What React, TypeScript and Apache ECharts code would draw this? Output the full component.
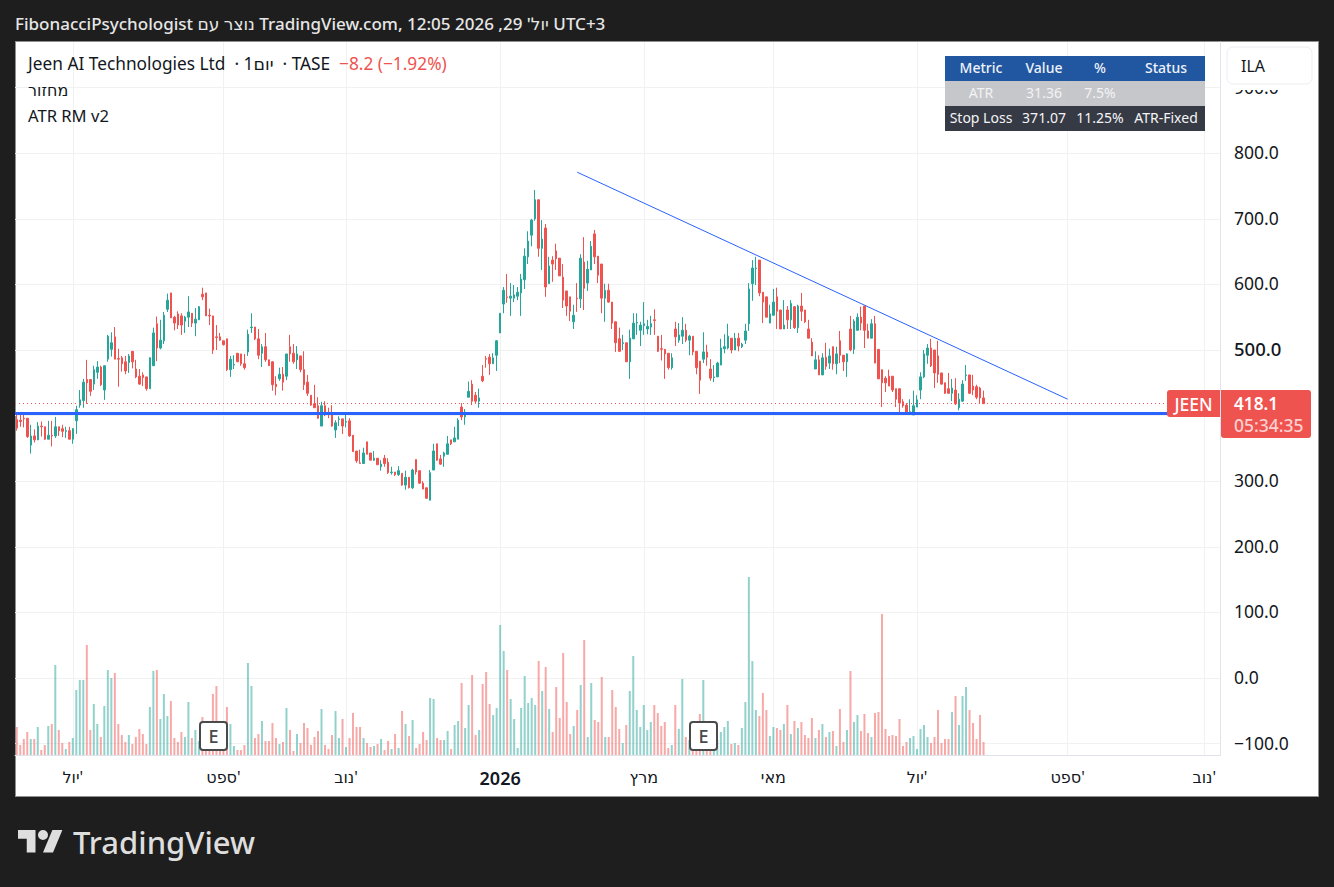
import React, { useEffect, useRef } from 'react';
import * as echarts from 'echarts';

// daily bars as [open, high, low, close]
const ohlcJun = [
  [394, 401, 377, 381], [393, 401, 383, 391], [396, 401, 382, 395], [396, 396, 366, 368],
  [355, 386, 342, 369], [369, 379, 359, 363], [363, 390, 363, 384], [384, 391, 368, 383],
  [383, 383, 363, 364], [364, 392, 364, 370], [370, 392, 353, 369], [369, 398, 366, 383],
  [383, 383, 369, 377], [380, 386, 367, 376], [376, 383, 366, 377], [377, 383, 364, 364],
];
const ohlcJulAug = [
  [364, 381, 357, 380], [392, 415, 372, 409], [416, 439, 412, 424], [423, 456, 412, 451],
  [455, 485, 418, 450], [455, 455, 430, 437], [448, 476, 439, 470], [466, 483, 456, 474],
  [474, 476, 445, 447], [439, 476, 424, 476], [486, 523, 482, 521], [501, 527, 490, 511],
  [520, 535, 486, 486], [487, 502, 444, 486], [488, 491, 467, 479], [482, 491, 463, 468],
  [481, 494, 465, 491], [498, 498, 472, 482], [471, 485, 457, 459], [460, 471, 447, 448],
  [462, 466, 445, 458], [459, 459, 438, 441], [441, 489, 441, 488], [476, 534, 476, 526],
  [540, 551, 483, 503], [503, 546, 501, 515], [514, 558, 509, 553], [562, 586, 558, 576],
  [587, 587, 549, 549], [550, 552, 530, 541], [555, 559, 532, 538], [552, 556, 523, 538],
  [544, 552, 526, 550], [550, 582, 535, 558], [556, 556, 535, 541], [541, 564, 521, 547],
  [546, 567, 546, 566], [585, 595, 576, 581], [587, 587, 552, 552], [553, 563, 538, 552],
  [552, 552, 494, 500], [520, 538, 500, 519], [520, 526, 514, 515],
];
const ohlcSepOct = [
  [514, 514, 507, 508], [517, 517, 468, 470], [470, 491, 459, 486], [477, 492, 471, 478],
  [495, 495, 482, 482], [494, 494, 476, 479], [479, 494, 470, 473], [497, 531, 491, 524],
  [534, 556, 526, 535], [535, 535, 515, 517], [517, 532, 486, 492], [495, 509, 474, 505],
  [505, 526, 482, 485], [485, 485, 476, 476], [482, 483, 438, 447], [448, 460, 431, 444],
  [456, 473, 453, 463], [463, 474, 438, 451], [460, 494, 454, 494], [505, 523, 482, 494],
  [495, 509, 479, 482], [485, 506, 471, 494], [491, 491, 466, 470], [470, 498, 439, 447],
  [451, 462, 430, 434], [431, 431, 415, 416], [418, 447, 412, 412], [415, 428, 395, 396],
  [384, 421, 384, 415], [415, 422, 399, 401], [403, 412, 396, 402], [401, 416, 383, 384],
  [378, 393, 366, 389], [394, 399, 384, 395], [395, 395, 372, 384],
];
const ohlcNovDec = [
  [390, 401, 382, 391], [392, 396, 368, 369], [370, 370, 345, 345], [346, 346, 328, 331],
  [328, 348, 327, 327], [327, 351, 327, 343], [360, 360, 341, 341], [343, 343, 332, 332],
  [332, 346, 331, 335], [335, 335, 325, 325], [322, 332, 316, 326], [335, 340, 322, 327],
  [329, 335, 311, 313], [313, 322, 310, 314], [314, 314, 308, 310], [310, 323, 308, 316],
  [312, 312, 293, 294], [294, 316, 287, 306], [306, 306, 289, 290], [290, 319, 288, 317],
  [333, 333, 310, 314], [316, 316, 296, 297], [297, 300, 288, 288], [290, 290, 273, 274],
  [271, 317, 271, 313], [317, 357, 317, 346], [357, 357, 331, 332], [334, 340, 325, 326],
  [338, 345, 322, 343], [341, 369, 341, 357], [363, 363, 355, 357], [360, 383, 360, 366],
  [364, 396, 364, 393], [413, 419, 393, 398], [398, 410, 386, 405], [428, 452, 428, 437],
  [448, 454, 416, 422], [431, 436, 418, 422], [422, 441, 412, 427], [460, 477, 451, 453],
  [487, 491, 473, 486], [489, 494, 462, 479], [479, 495, 479, 488], [492, 515, 468, 514],
];
const ohlcJanFeb = [
  [526, 556, 526, 556], [570, 596, 556, 591], [581, 616, 572, 580], [579, 602, 552, 582],
  [579, 599, 573, 584], [582, 596, 576, 588], [587, 616, 552, 608], [607, 655, 593, 643],
  [642, 681, 631, 666], [675, 700, 658, 698], [700, 744, 697, 729], [729, 729, 642, 655],
  [655, 698, 622, 669], [686, 692, 581, 596], [601, 642, 601, 628], [637, 643, 604, 631],
  [651, 662, 622, 639], [640, 640, 613, 613], [611, 631, 564, 576], [590, 590, 552, 567],
  [581, 581, 544, 559], [543, 569, 532, 553], [579, 602, 558, 578], [578, 646, 564, 640],
  [634, 672, 561, 594], [602, 636, 590, 623], [622, 666, 622, 658], [677, 683, 631, 642],
  [643, 643, 602, 614], [631, 631, 556, 579], [579, 601, 543, 591], [591, 601, 572, 573],
  [573, 573, 532, 541], [543, 543, 497, 511], [517, 534, 497, 498], [510, 523, 500, 511],
  [511, 511, 482, 482], [482, 531, 456, 518], [517, 556, 517, 541], [541, 556, 523, 542],
  [530, 543, 506, 538],
];
const ohlcMarApr = [
  [537, 573, 523, 540], [532, 546, 524, 536], [535, 552, 523, 540], [546, 562, 523, 545],
  [521, 521, 497, 498], [502, 523, 484, 501], [501, 501, 456, 494], [495, 495, 470, 473],
  [473, 495, 470, 488], [532, 543, 506, 520], [515, 541, 511, 523], [521, 550, 509, 530],
  [530, 540, 512, 515], [515, 523, 492, 521], [521, 521, 492, 497], [498, 498, 463, 473],
  [483, 483, 433, 454], [486, 527, 480, 497], [497, 508, 476, 489], [471, 486, 453, 457],
  [458, 477, 451, 459], [459, 482, 459, 480], [477, 517, 477, 503], [502, 524, 495, 505],
  [503, 540, 501, 521], [518, 518, 495, 500], [500, 526, 500, 518], [518, 526, 498, 506],
  [505, 511, 503, 509], [515, 540, 509, 529], [540, 602, 529, 593], [601, 637, 575, 625],
  [624, 642, 599, 625], [637, 637, 582, 587], [588, 588, 541, 573], [581, 581, 550, 550],
  [541, 569, 541, 555],
];
const ohlcMayJun = [
  [553, 593, 553, 573], [581, 595, 532, 559], [561, 561, 532, 532], [532, 576, 532, 538],
  [561, 567, 532, 546], [546, 576, 532, 571], [566, 567, 532, 534], [534, 569, 526, 567],
  [567, 587, 544, 559], [561, 561, 541, 543], [532, 546, 518, 518], [512, 518, 491, 491],
  [471, 498, 471, 485], [485, 492, 462, 462], [462, 495, 462, 488], [489, 511, 470, 475],
  [480, 502, 471, 491], [505, 505, 470, 479], [479, 505, 463, 494], [514, 529, 480, 492],
  [492, 492, 468, 482], [482, 495, 459, 494], [532, 552, 498, 500], [501, 547, 494, 544],
  [530, 556, 530, 550], [550, 566, 530, 541], [567, 567, 503, 530], [529, 540, 518, 518],
  [518, 547, 518, 540], [540, 552, 480, 480], [501, 501, 456, 456], [470, 470, 413, 450],
  [457, 460, 436, 450], [460, 470, 445, 445], [460, 460, 436, 439], [441, 441, 413, 425],
  [441, 441, 401, 419], [421, 425, 412, 415], [416, 419, 402, 405], [403, 425, 401, 406],
  [401, 438, 401, 415],
];
const ohlcJul = [
  [413, 431, 413, 424], [439, 466, 425, 459], [459, 500, 457, 494], [492, 509, 479, 503],
  [503, 517, 474, 476], [500, 500, 442, 465], [491, 514, 450, 463], [465, 465, 447, 448],
  [450, 450, 433, 434], [441, 465, 433, 434], [434, 456, 422, 442], [439, 457, 416, 418],
  [412, 434, 408, 425], [422, 454, 421, 448], [461, 477, 453, 462], [462, 462, 433, 434],
  [445, 462, 431, 439], [444, 447, 425, 428], [442, 444, 419, 427], [427, 438, 418, 418.1],
];

// volume on its own hidden overlay scale
const volumes = [
  28, 10, 16, 23, 16, 16, 28, 5, 10, 29, 31, 90, 25, 12, 6, 13, 17, 65, 75, 75,
  110, 25, 51, 31, 18, 49, 85, 77, 82, 31, 20, 13, 20, 11, 18, 26, 21, 11, 48, 84,
  85, 36, 61, 39, 54, 17, 13, 23, 18, 53, 17, 25, 14, 38, 24, 28, 61, 69, 28, 25,
  48, 31, 9, 5, 5, 10, 92, 69, 17, 21, 34, 14, 14, 32, 17, 11, 13, 47, 25, 4,
  21, 12, 32, 27, 10, 18, 24, 46, 10, 6, 20, 44, 17, 36, 8, 17, 42, 28, 28, 17,
  12, 8, 9, 11, 16, 5, 14, 6, 21, 7, 44, 31, 19, 35, 7, 11, 23, 15, 57, 56,
  17, 15, 15, 24, 6, 30, 34, 72, 27, 50, 80, 20, 25, 71, 83, 51, 40, 47, 130, 104,
  85, 56, 36, 7, 47, 79, 52, 57, 50, 94, 64, 88, 46, 23, 68, 37, 102, 53, 21, 29,
  45, 70, 115, 18, 72, 35, 33, 78, 18, 18, 65, 48, 26, 12, 30, 64, 99, 45, 28, 50,
  25, 33, 50, 42, 29, 33, 7, 10, 50, 26, 76, 18, 15, 20, 20, 41, 75, 20, 15, 12,
  15, 23, 28, 34, 11, 12, 10, 27, 53, 178, 94, 45, 39, 62, 45, 19, 28, 27, 25, 31,
  50, 21, 34, 27, 33, 20, 17, 37, 17, 25, 31, 18, 23, 24, 9, 46, 13, 25, 84, 33,
  40, 24, 41, 22, 18, 42, 43, 141, 26, 19, 20, 19, 36, 9, 13, 17, 19, 6, 26, 30,
  18, 12, 18, 45, 12, 16, 16, 43, 59, 30, 59, 68, 45, 32, 16, 40, 13,
];

const timeLabels = ["יול'", "ספט'", "נוב'", '2026', 'מרץ', 'מאי', "יול'", "ספט'", "נוב'"];
const timeLabelBars = [16, 59, 94, 138, 179, 216, 257, 300, 339];
const priceGrid = [-100, 0, 100, 200, 300, 400, 500, 600, 700, 800, 900];
// 400.0 sits behind the last-price tag in the picture, so it gets no label
const priceLabels = [-100, 0, 100, 200, 300, 500, 600, 700, 800, 900];
const trendLine = [[160, 771], [300, 425]];
const supportLevel = 404;
const lastPrice = 418.1;

const tableHeader = ['Metric', 'Value', '%', 'Status'];
const tableAtr = ['ATR', '31.36', '7.5%', ''];
const tableStop = ['Stop Loss', '371.07', '11.25%', 'ATR-Fixed'];

const BAR_SLOTS = 344;
const FONT = '"Noto Sans", "DejaVu Sans", sans-serif';
const UP = '#26a69a';
const DOWN = '#ef5350';
const INK = '#131722';

const tvLogo = 'M14 22H7V11H0V4h14v18zM28 22h-8l7.5-18h8L28 22zM24 8a4 4 0 1 1-8 0a4 4 0 0 1 8 0z';

export default function App() {
  const elRef = useRef<HTMLDivElement>(null);

  useEffect(() => {
    if (!elRef.current) return;
    const chart = echarts.init(elRef.current, null, { renderer: 'svg' });

    echarts.graphic.registerShape('tvLogo', echarts.graphic.extendPath(tvLogo, {}));

    const bars = [
      ...ohlcJun, ...ohlcJulAug, ...ohlcSepOct, ...ohlcNovDec,
      ...ohlcJanFeb, ...ohlcMarApr, ...ohlcMayJun, ...ohlcJul,
    ];
    const categories = Array.from({ length: BAR_SLOTS }, (_, i) => {
      const k = timeLabelBars.indexOf(i);
      return k >= 0 ? timeLabels[k] : '';
    });
    const isMonthBar = (i: number) => timeLabelBars.includes(i);

    const tableCols = [981, 1044, 1100, 1166];
    const tableRow = (row: string[], y: number, fill: string, weight = 400) =>
      row.map((t, i) => ({
        type: 'text',
        x: tableCols[i],
        y,
        style: { text: t, fill, font: `${weight} 14px ${FONT}`, textAlign: 'center', textVerticalAlign: 'middle' },
      }));

    const eMarker = (x: number) => [
      {
        type: 'rect',
        shape: { x, y: 722, width: 27, height: 28, r: 3 },
        style: { fill: '#fff', stroke: '#4a4a4a', lineWidth: 2 },
      },
      {
        type: 'text',
        x: x + 13.5,
        y: 736,
        style: { text: 'E', fill: '#4a4a4a', font: `500 18px ${FONT}`, textAlign: 'center', textVerticalAlign: 'middle' },
      },
    ];

    const label = (text: string, x: number, y: number, fill: string, font: string) => ({
      type: 'text',
      x,
      y,
      style: { text, fill, font, textVerticalAlign: 'middle' },
    });

    const overlays: any[] = [
      label(
        "FibonacciPsychologist נוצר עם TradingView.com, יול' 29, 2026 12:05 UTC+3",
        15, 23, '#e6e6e6', `500 17px ${FONT}`,
      ),
      label('Jeen AI Technologies Ltd \u00A0· 1יום\u00A0 · TASE', 28, 63, INK, `400 17.3px ${FONT}`),
      label('−8.2 (−1.92%)', 339, 63, DOWN, `400 17.3px ${FONT}`),
      label('מחזור', 28, 90, INK, `400 16px ${FONT}`),
      label('ATR RM v2', 28, 115, INK, `400 16.6px ${FONT}`),

      { type: 'rect', shape: { x: 945, y: 56, width: 260, height: 25 }, style: { fill: '#2157a0' } },
      { type: 'rect', shape: { x: 945, y: 81, width: 260, height: 25 }, style: { fill: 'rgba(188,189,194,0.85)' } },
      { type: 'rect', shape: { x: 945, y: 106, width: 260, height: 25 }, style: { fill: '#363a45' } },
      ...tableRow(tableHeader, 67.5, '#eef2fa', 500),
      ...tableRow(tableAtr, 92.5, '#f2f3f4'),
      ...tableRow(tableStop, 117.5, '#f5f5f6'),

      // white halo under the currency button hides most of the 900.0 label
      { type: 'rect', shape: { x: 1227, y: 84, width: 85, height: 6 }, style: { fill: '#fff' } },
      {
        type: 'rect',
        shape: { x: 1227, y: 47, width: 85, height: 37, r: 6 },
        style: { fill: '#fff', stroke: '#ecedf1', lineWidth: 1 },
      },
      label('ILA', 1241, 66, INK, `400 16px ${FONT}`),

      { type: 'rect', shape: { x: 1167, y: 390, width: 53, height: 27, r: [3, 0, 0, 3] }, style: { fill: DOWN } },
      {
        type: 'text',
        x: 1193.5,
        y: 404,
        style: { text: 'JEEN', fill: '#fff', font: `500 17.5px ${FONT}`, textAlign: 'center', textVerticalAlign: 'middle' },
      },
      { type: 'rect', shape: { x: 1221, y: 390, width: 90, height: 48, r: [0, 3, 3, 3] }, style: { fill: DOWN } },
      label('418.1', 1234, 403, '#fff', `600 17.2px ${FONT}`),
      label('05:34:35', 1234, 425, '#fcd0cf', `500 17.5px ${FONT}`),

      ...eMarker(200),
      ...eMarker(690),

      { type: 'tvLogo', x: 18, y: 825, scaleX: 1.25, scaleY: 1.25, style: { fill: '#dedede' } },
      label('TradingView', 73, 842, '#dedede', `500 31px ${FONT}`),
    ];

    chart.setOption({
      animation: false,
      backgroundColor: 'transparent',
      textStyle: { fontFamily: FONT },
      grid: { left: 15, top: 42, width: 1205, height: 713 },
      xAxis: {
        type: 'category',
        data: categories,
        boundaryGap: true,
        axisLine: { onZero: false, lineStyle: { color: '#e0e3eb' } },
        axisTick: { show: false },
        axisLabel: {
          interval: (i: number) => isMonthBar(i),
          color: INK,
          fontSize: 16,
          margin: 14,
          formatter: (v: string) => (v === '2026' ? `{b|${v}}` : v),
          rich: { b: { fontWeight: 600, fontSize: 18, color: INK } },
        },
        splitLine: {
          show: true,
          alignWithLabel: true,
          interval: (i: number) => isMonthBar(i),
          lineStyle: { color: '#f0f1f3' },
        },
      },
      yAxis: [
        {
          type: 'value',
          position: 'right',
          min: -117.4,
          max: 969.5,
          axisLine: { show: true, lineStyle: { color: '#e0e3eb' } },
          axisTick: { show: false, customValues: priceGrid },
          splitLine: { show: true, lineStyle: { color: '#f0f1f3' } },
          axisLabel: {
            customValues: priceLabels,
            color: INK,
            fontSize: 17.5,
            margin: 14,
            padding: [0, 0, 2, 0],
            formatter: (v: number) => {
              const s = v.toFixed(1).replace('-', '−');
              return v === 500 ? `{b|${s}}` : s;
            },
            rich: { b: { fontWeight: 500, fontSize: 18.5, color: INK } },
          },
        },
        { type: 'value', min: 0, max: 713, show: false, splitLine: { show: false } },
      ],
      series: [
        {
          type: 'bar',
          yAxisIndex: 1,
          barWidth: 2,
          silent: true,
          z: 1,
          data: volumes.map((v, i) => ({
            value: v,
            itemStyle: { color: bars[i][3] > bars[i][0] ? 'rgba(38,166,154,0.5)' : 'rgba(239,83,80,0.5)' },
          })),
        },
        {
          type: 'candlestick',
          barWidth: 2,
          z: 3,
          itemStyle: { color: UP, color0: DOWN, borderColor: UP, borderColor0: DOWN, borderWidth: 1 },
          data: bars.map(([o, h, l, c]) => [o, c, l, h]),
          markLine: {
            silent: true,
            symbol: 'none',
            label: { show: false },
            animation: false,
            data: [
              { yAxis: supportLevel, lineStyle: { color: '#2962ff', width: 3, type: 'solid' } },
              { yAxis: lastPrice, lineStyle: { color: DOWN, width: 1, type: [1, 3] } },
            ],
          },
        },
        {
          type: 'line',
          symbol: 'none',
          silent: true,
          z: 4,
          lineStyle: { color: '#2962ff', width: 1 },
          data: trendLine,
        },
      ],
      graphic: {
        z: 100,
        elements: overlays.map((el, i) => ({ ...el, z: 100, z2: i })),
      },
    });

    return () => chart.dispose();
  }, []);

  return (
    <div style={{ position: 'absolute', left: 0, top: 0, width: 1334, height: 887, background: '#1e1e1e', overflow: 'hidden' }}>
      <div style={{ position: 'absolute', left: 15, top: 41, width: 1304, height: 756, boxSizing: 'border-box', background: '#fff', border: '1px solid #8f8f8f' }} />
      <div ref={elRef} style={{ position: 'absolute', left: 0, top: 0, width: 1334, height: 887 }} />
    </div>
  );
}
